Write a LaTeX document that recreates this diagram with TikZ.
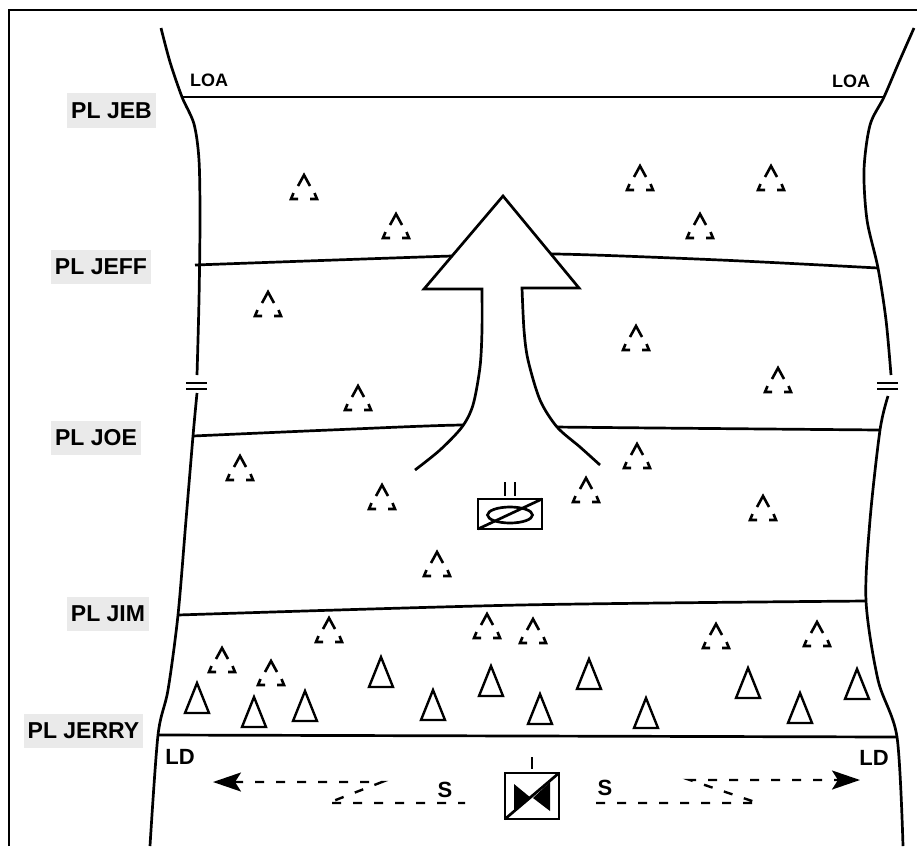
\documentclass[tikz,border=0pt]{standalone}
\usepackage{fontspec}
\setmainfont{Liberation Sans}
\usetikzlibrary{arrows.meta}
\definecolor{plgray}{HTML}{EAEAEA}
\tikzset{
  pl/.style={fill=plgray, inner xsep=4pt, inner ysep=9pt,
    font=\fontsize{23}{25}\selectfont\bfseries},
  loatext/.style={inner sep=0pt, font=\fontsize{18}{20}\selectfont\bfseries},
  ldtext/.style={inner sep=0pt, font=\fontsize{22}{24}\selectfont\bfseries},
  screen/.style={line width=2.4pt, dash pattern=on 9pt off 12pt},
  dashtri/.pic={
    \draw[line width=2.6pt] (-6,-1) -- (0,-12) -- (6,-1);
    \draw[line width=2.6pt] (-10.5,6) -- (-13,12) -- (-6,12);
    \draw[line width=2.6pt] (6,12) -- (13,12) -- (10.5,6);},
  soltri/.pic={\draw[line width=2.4pt] (0,-15) -- (12,15) -- (-12,15) -- cycle;},
}

\begin{document}
\begin{tikzpicture}[x=1pt, y=-1pt, line width=2.7pt]
  \useasboundingbox (0,0) rectangle (917,846);
  % Draw frame
  \draw[line width=2.4pt] (9,846) -- (9,10) -- (917,10);

  % Draw boundaries
  \draw plot[smooth] coordinates {(161,28) (170,62) (182,97) (194,124) (199,160) (200,220) (199,300) (197,375)};
  \draw plot[smooth] coordinates {(197,393) (193,436) (186,520) (178,615) (168,690) (158,735) (150,846)};
  \draw plot[smooth] coordinates {(914,28) (899,62) (884,97) (870,125) (864,170) (867,220) (878,268) (886,320) (891,375)};
  \draw plot[smooth] coordinates {(888,396) (880,430) (870,520) (866,601) (878,680) (897,737) (903,846)};
  \draw[line width=2.4pt] (186,383) -- (207,383); % break
  \draw[line width=2.4pt] (186,389) -- (207,389);
  \draw[line width=2.4pt] (877,383) -- (898,383);
  \draw[line width=2.4pt] (877,389) -- (898,389);

  % Draw phase lines
  \draw (182,97) -- (884,97); % LOA
  \draw plot[smooth] coordinates {(195,265) (452,256) (555,254) (720,260) (878,268)}; % JEFF
  \draw plot[smooth] coordinates {(193,436) (330,430) (462,425) (555,427) (880,430)}; % JOE
  \draw plot[smooth] coordinates {(178,615) (520,605) (866,601)}; % JIM
  \draw (158,735) -- (897,737); % JERRY

  % Draw attack arrow
  \draw[fill=white] plot[smooth] coordinates {(415,470) (440,450) (462,427) (473,405) (480,367) (482,330) (482,289)}
    -- (424,289) -- (503,196) -- (579,288) -- (522,288)
    -- plot[smooth] coordinates {(522,288) (524,330) (528,360) (540,400) (557,427) (580,447) (600,465)};

  % Phase line labels
  \node (jeb)   [pl] at (111.5,110.5) {PL JEB};
  \node (jeff)  [pl] at (101,267)     {PL JEFF};
  \node (joe)   [pl] at (96,438)      {PL JOE};
  \node (jim)   [pl] at (108,614)     {PL JIM};
  \node (jerry) [pl] at (83.5,731)    {PL JERRY};
  \node (loaw) [loatext] at (209,80)  {LOA};
  \node (loae) [loatext] at (851,81)  {LOA};
  \node (ldw)  [ldtext]  at (180,757) {LD};
  \node (lde)  [ldtext]  at (874,758) {LD};
  \node (sw)   [ldtext]  at (445,790) {S};
  \node (se)   [ldtext]  at (605,788) {S};

  % Draw suspected positions
  \pic at (304,187) {dashtri};
  \pic at (396,226) {dashtri};
  \pic at (268,304) {dashtri};
  \pic at (358,398) {dashtri};
  \pic at (240,468) {dashtri};
  \pic at (382,497) {dashtri};
  \pic at (437,564) {dashtri};
  \pic at (586,490) {dashtri};
  \pic at (640,178) {dashtri};
  \pic at (771,178) {dashtri};
  \pic at (700,226) {dashtri};
  \pic at (636,338) {dashtri};
  \pic at (778,380) {dashtri};
  \pic at (637,456) {dashtri};
  \pic at (763,508) {dashtri};
  \pic at (329,630) {dashtri};
  \pic at (487,626) {dashtri};
  \pic at (533,631) {dashtri};
  \pic at (716,636) {dashtri};
  \pic at (817,634) {dashtri};
  \pic at (222,660) {dashtri};
  \pic at (271,673) {dashtri};
  % Draw known positions
  \pic at (197,698) {soltri};
  \pic at (254,712) {soltri};
  \pic at (305,706) {soltri};
  \pic at (381,672) {soltri};
  \pic at (433,705) {soltri};
  \pic at (491,681) {soltri};
  \pic at (540,709) {soltri};
  \pic at (589,674) {soltri};
  \pic at (646,713) {soltri};
  \pic at (748,683) {soltri};
  \pic at (800,708) {soltri};
  \pic at (857,684) {soltri};

  % Draw units
  \draw (478,499) rectangle (542,529);
  \draw (478,529) -- (542,499);
  \draw (510,515) ellipse (22.5 and 8);
  \draw (505,482) -- (505,496);
  \draw (515,482) -- (515,496);

  \draw (505,773) rectangle (559,819);
  \draw (505,819) -- (559,773);
  \fill (514,784) -- (531,798) -- (514,812) -- cycle;
  \fill (550,782) -- (533,798) -- (550,811) -- cycle;
  \draw (532,757) -- (532,769);

  % Draw screen lines
  \draw[screen, {Stealth[length=28pt,width=19pt,inset=6pt]}-] (213,782) -- (382,782) -- (328,803) -- (465,803);
  \draw[screen, -{Stealth[length=28pt,width=19pt,inset=6pt]}] (596,803) -- (758,803) -- (690,780) -- (860,780);
\end{tikzpicture}
\end{document}
